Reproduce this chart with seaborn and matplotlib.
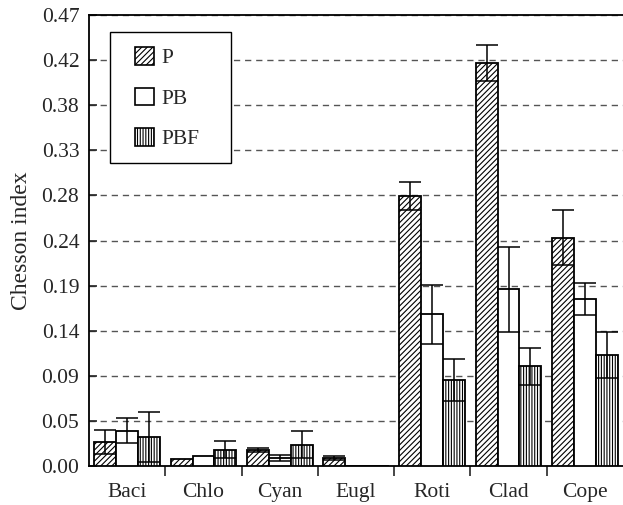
import matplotlib
matplotlib.use("Agg")
import matplotlib.pyplot as plt
import seaborn as sns
import pandas as pd
import numpy as np
from matplotlib.patches import Patch, Rectangle
from matplotlib.ticker import FixedLocator

categories = ["Baci", "Chlo", "Cyan", "Eugl", "Roti", "Clad", "Cope"]
groups = ["P", "PB", "PBF"]
P_vals = [0.025, 0.007, 0.017, 0.008, 0.281, 0.420, 0.238]
P_err = [0.0125, 0.0, 0.002, 0.002, 0.0146, 0.019, 0.029]
PB_vals = [0.037, 0.010, 0.008, 0.0, 0.158, 0.184, 0.174]
PB_err = [0.013, 0.0, 0.003, 0.0, 0.031, 0.044, 0.017]
PBF_vals = [0.030, 0.017, 0.022, 0.0, 0.090, 0.104, 0.116]
PBF_err = [0.026, 0.009, 0.014, 0.0, 0.022, 0.0195, 0.024]
y_ticks = [0.0, 0.047, 0.094, 0.141, 0.188, 0.235, 0.282, 0.329, 0.376, 0.423, 0.47]
y_labels = ["0.00", "0.05", "0.09", "0.14", "0.19", "0.24", "0.28", "0.33", "0.38", "0.42", "0.47"]

vals = {"P": P_vals, "PB": PB_vals, "PBF": PBF_vals}
errs = {"P": P_err, "PB": PB_err, "PBF": PBF_err}
hatches = {"P": "//////", "PB": "", "PBF": "||||||"}

df = pd.DataFrame([
    {"cat": c, "grp": g, "val": vals[g][i]}
    for g in groups for i, c in enumerate(categories)
])

sns.set_style("white")
plt.rcParams["font.family"] = ["Liberation Serif", "DejaVu Serif"]
plt.rcParams["hatch.linewidth"] = 0.8
plt.rcParams["hatch.color"] = "#555555"

FS = 15.5
fig = plt.figure(figsize=(6.23, 5.05), dpi=100)
ax = fig.add_axes([0.1429, 0.0772, 0.857, 0.8931])

sns.barplot(data=df, x="cat", y="val", hue="grp", order=categories,
            hue_order=groups, palette=["white"] * 3, edgecolor="black",
            linewidth=1.3, width=0.86, errorbar=None, legend=False, ax=ax,
            zorder=3)

for cont, g in zip(ax.containers, groups):
    xs, ys, es = [], [], []
    for bar, v, e in zip(cont.patches, vals[g], errs[g]):
        bar.set_hatch(hatches[g])
        bar.set_edgecolor("black")
        if e > 0:
            xs.append(bar.get_x() + bar.get_width() / 2)
            ys.append(v)
            es.append(e)
    ax.errorbar(xs, ys, yerr=es, fmt="none", ecolor="black", elinewidth=1.1,
                capsize=8, capthick=1.1, zorder=4)

ax.set_xlim(-0.5, 6.5)
ax.set_ylim(0, 0.47)
ax.set_yticks(y_ticks)
ax.set_yticklabels(y_labels)
ax.yaxis.grid(True, linestyle=(0, (4.5, 3.5)), color="#555555", linewidth=1.0, zorder=0)
ax.set_axisbelow(True)
ax.xaxis.set_minor_locator(FixedLocator([i + 0.5 for i in range(6)]))
ax.tick_params(axis="x", which="major", length=0, labelsize=FS, pad=12)
ax.tick_params(axis="x", which="minor", length=7, width=1.2, direction="out", bottom=True)
ax.tick_params(axis="y", length=6, width=1.2, direction="in", left=True, labelsize=FS, pad=7)
ax.set_xlabel("")
ax.set_ylabel("Chesson index", fontsize=17, labelpad=7)

for s in ["left", "bottom", "top"]:
    ax.spines[s].set_visible(True)
    ax.spines[s].set_color("black")
    ax.spines[s].set_linewidth(1.3)
ax.spines["right"].set_visible(False)

# legend box
box = Rectangle((0.0393, 0.672), 0.2266, 0.290, transform=ax.transAxes,
                facecolor="white", edgecolor="black", linewidth=1.0, zorder=5)
ax.add_patch(box)

handles = [Patch(facecolor="white", edgecolor="black", hatch=hatches[g], linewidth=1.2, label=g)
           for g in groups]
leg = ax.legend(handles=handles, loc="upper left", bbox_to_anchor=(0.0861, 0.929),
                frameon=False, fontsize=FS,
                handlelength=0.88, handleheight=0.88, labelspacing=0.9,
                borderpad=0, handletextpad=0.35, borderaxespad=0)
leg.set_zorder(6)

fig.savefig("out.png", dpi=100, facecolor="white")
